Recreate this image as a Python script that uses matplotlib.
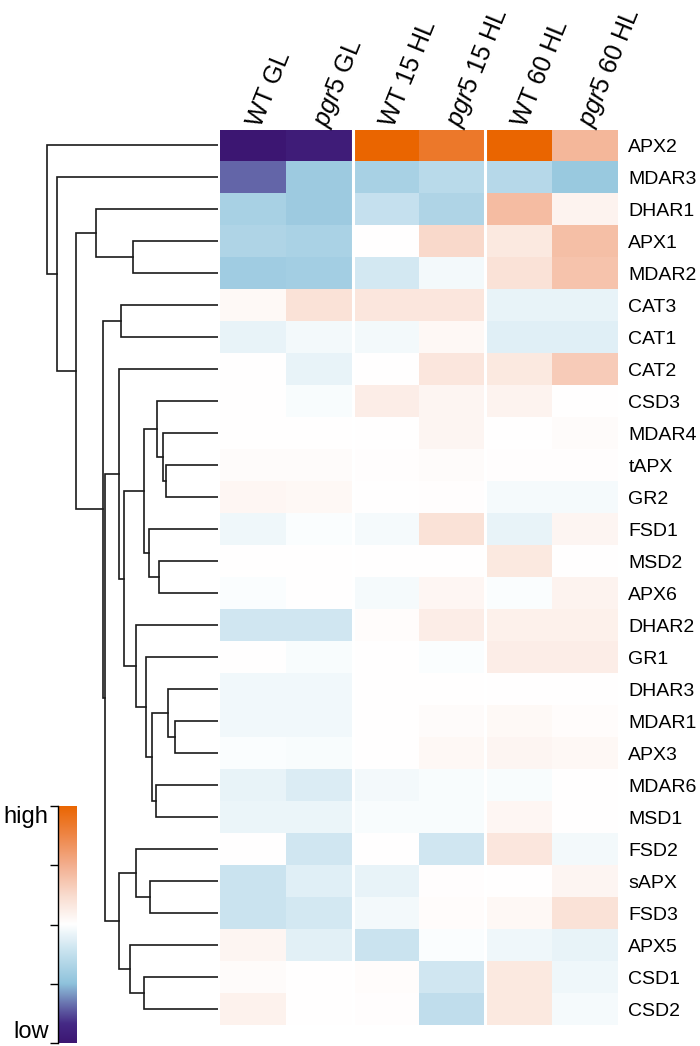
import numpy as np
import matplotlib
matplotlib.use("Agg")
import matplotlib.pyplot as plt
from matplotlib.colors import LinearSegmentedColormap

plt.rcParams['font.family'] = ['Liberation Sans', 'DejaVu Sans']
plt.rcParams['mathtext.fontset'] = 'custom'
plt.rcParams['mathtext.rm'] = 'Liberation Sans'
plt.rcParams['mathtext.it'] = 'Liberation Sans:italic'

# data
conditions = ["WT GL", r"$\mathit{pgr5}$ GL", "WT 15 HL", r"$\mathit{pgr5}$ 15 HL",
              "WT 60 HL", r"$\mathit{pgr5}$ 60 HL"]

genes = ["APX2", "MDAR3", "DHAR1", "APX1", "MDAR2", "CAT3", "CAT1", "CAT2", "CSD3",
         "MDAR4", "tAPX", "GR2", "FSD1", "MSD2", "APX6", "DHAR2", "GR1", "DHAR3",
         "MDAR1", "APX3", "MDAR6", "MSD1", "FSD2", "sAPX", "FSD3", "APX5", "CSD1", "CSD2"]

# relative expression, -1 = low, 1 = high
values = np.array([
    [-1.00, -0.95,  1.00,  0.85,  1.00,  0.45],
    [-0.70, -0.43, -0.38, -0.30, -0.32, -0.45],
    [-0.38, -0.43, -0.25, -0.35,  0.42,  0.08],
    [-0.35, -0.37,  0.00,  0.25,  0.15,  0.40],
    [-0.42, -0.40, -0.18, -0.05,  0.20,  0.38],
    [ 0.04,  0.20,  0.17,  0.17, -0.10, -0.10],
    [-0.10, -0.05, -0.05,  0.05, -0.13, -0.13],
    [ 0.00, -0.10,  0.00,  0.17,  0.15,  0.33],
    [ 0.00, -0.03,  0.12,  0.07,  0.08,  0.00],
    [ 0.00,  0.00,  0.00,  0.07,  0.00,  0.03],
    [ 0.03,  0.03,  0.01,  0.03,  0.01,  0.01],
    [ 0.06,  0.05,  0.00,  0.01, -0.04, -0.04],
    [-0.07, -0.02, -0.04,  0.20, -0.10,  0.07],
    [ 0.00,  0.00,  0.00,  0.00,  0.15,  0.00],
    [-0.02,  0.00, -0.04,  0.06, -0.02,  0.08],
    [-0.20, -0.20,  0.02,  0.12,  0.10,  0.10],
    [ 0.00, -0.03,  0.00, -0.02,  0.12,  0.12],
    [-0.06, -0.06,  0.00,  0.00,  0.00,  0.00],
    [-0.06, -0.06,  0.00,  0.03,  0.04,  0.02],
    [-0.02, -0.03,  0.00,  0.05,  0.07,  0.05],
    [-0.10, -0.15, -0.05, -0.03, -0.03,  0.00],
    [-0.08, -0.08, -0.03, -0.03,  0.06,  0.00],
    [ 0.00, -0.20,  0.00, -0.20,  0.17, -0.05],
    [-0.22, -0.13, -0.10,  0.01,  0.00,  0.07],
    [-0.22, -0.18, -0.05,  0.02,  0.05,  0.20],
    [ 0.07, -0.12, -0.22, -0.02, -0.07, -0.10],
    [ 0.03,  0.00,  0.02, -0.20,  0.15, -0.07],
    [ 0.09,  0.00,  0.01, -0.27,  0.15, -0.04],
])

# row dendrogram: (merge height, left, right), leaves are gene names
tree = (171, "APX2",
        (161, "MDAR3",
         (142,
          (122, "DHAR1", (85, "APX1", "MDAR2")),
          (115,
           (97, "CAT3", "CAT1"),
           (113,
            (99, "CAT2",
             (94,
              (74,
               (61, "CSD3", (55, "MDAR4", (52, "tAPX", "GR2"))),
               (69, "FSD1", (59, "MSD2", "APX6"))),
              (82, "DHAR2",
               (72, "GR1",
                (66,
                 (50, "DHAR3", (43, "MDAR1", "APX3")),
                 (62, "MDAR6", "MSD1")))))),
            (99,
             (82, "FSD2", (68, "sAPX", "FSD3")),
             (88, "APX5", (74, "CSD1", "CSD2"))))))))

cmap = LinearSegmentedColormap.from_list("lowhigh", [
    (0.00, "#3c1672"),
    (0.08, "#452a85"),
    (0.15, "#6366a8"),
    (0.25, "#8fc3dc"),
    (0.38, "#c6e1ee"),
    (0.50, "#ffffff"),
    (0.62, "#f9dccf"),
    (0.75, "#f3ae8e"),
    (0.88, "#ee8443"),
    (1.00, "#ea6500"),
])

W, H = 700, 1046
fig = plt.figure(figsize=(W / 100, H / 100), dpi=100)


def px_axes(x0, y0, x1, y1):
    return fig.add_axes([x0 / W, 1 - y1 / H, (x1 - x0) / W, (y1 - y0) / H])


top, bottom = 129.5, 1025
nrow, ncol = len(genes), len(conditions)

# heatmap
ax = px_axes(220, top, 618, bottom)
ax.pcolormesh(values, cmap=cmap, vmin=-1, vmax=1)
ax.set_xlim(0, ncol)
ax.set_ylim(nrow, 0)
for xv in (2, 4):
    ax.axvline(xv, color="white", lw=2.2)
for s in ax.spines.values():
    s.set_visible(False)
ax.set_xticks([])
ax.set_yticks(np.arange(nrow) + 0.5)
ax.set_yticklabels(genes, fontsize=14)
ax.yaxis.tick_right()
ax.tick_params(axis="y", length=0, pad=7.5)
for j, lab in enumerate(conditions):
    ax.text(j + 0.62, -0.04, lab, rotation=68, rotation_mode="anchor",
            ha="left", va="baseline", fontsize=18, clip_on=False)

# dendrogram
dax = px_axes(0, top, 218, bottom)
dax.set_xlim(218, 0)
dax.set_ylim(nrow, 0)
dax.axis("off")


def draw(node):
    if isinstance(node, str):
        return genes.index(node) + 0.5, 0
    h, left, right = node
    yl, hl = draw(left)
    yr, hr = draw(right)
    dax.plot([hl, h, h, hr], [yl, yl, yr, yr], color="#1a1a1a", lw=1.2,
             solid_joinstyle="miter")
    return (yl + yr) / 2, h


draw(tree)

# colour key
cax = px_axes(58, 806, 77, 1043)
grad = np.linspace(-1, 1, 256).reshape(-1, 1)
cax.imshow(grad, cmap=cmap, aspect="auto", origin="lower", extent=[0, 1, -1, 1])
for side in ("top", "right", "bottom"):
    cax.spines[side].set_visible(False)
cax.spines["left"].set_linewidth(1.0)
cax.set_xticks([])
cax.set_yticks(np.linspace(-1, 1, 5))
cax.set_yticklabels([])
cax.tick_params(axis="y", length=6, width=1.0)
cax.text(-0.5, 1, "high", transform=cax.get_yaxis_transform(), ha="right",
         va="top", fontsize=17)
cax.text(-0.5, -1, "low", transform=cax.get_yaxis_transform(), ha="right",
         va="bottom", fontsize=17)

fig.savefig("out.png", dpi=100)
